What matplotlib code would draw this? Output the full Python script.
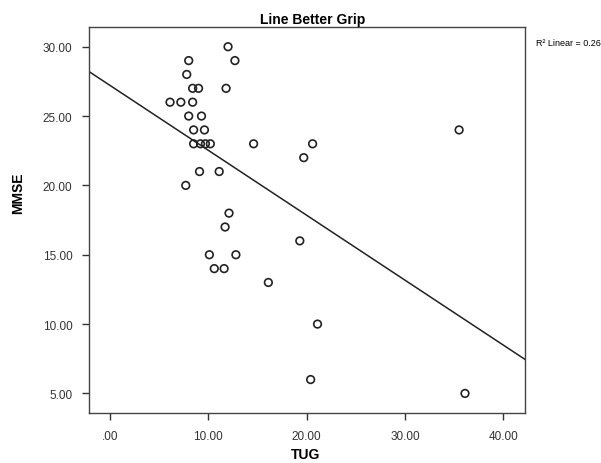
import numpy as np
import matplotlib.pyplot as plt

# TUG (s) と MMSE の散布図
tug = [12.0, 8.0, 12.7, 7.8, 8.4, 9.0, 11.8, 6.1, 7.2, 8.4,
       8.0, 9.3, 8.5, 9.6, 8.5, 9.2, 9.7, 10.2, 14.6, 9.1,
       11.1, 7.7, 12.1, 11.7, 10.1, 12.8, 10.6, 11.6, 16.1, 20.6,
       19.7, 19.3, 21.1, 20.4, 35.5, 36.1]
mmse = [30, 29, 29, 28, 27, 27, 27, 26, 26, 26,
        25, 25, 24, 24, 23, 23, 23, 23, 23, 21,
        21, 20, 18, 17, 15, 15, 14, 14, 13, 23,
        22, 16, 10, 6, 24, 5]
xticks = [0, 10, 20, 30, 40]
xticklabels = [".00", "10.00", "20.00", "30.00", "40.00"]
yticks = [5, 10, 15, 20, 25, 30]
yticklabels = ["5.00", "10.00", "15.00", "20.00", "25.00", "30.00"]

narrow = ["Liberation Sans Narrow", "Liberation Sans", "DejaVu Sans"]
plt.rcParams['font.family'] = ["Liberation Sans", "DejaVu Sans"]

fig = plt.figure(figsize=(6.01, 4.64), dpi=100)
ax = fig.add_axes([0.1481, 0.1078, 0.7254, 0.8312])

x = np.array(tug)
y = np.array(mmse)
b, a = np.polyfit(x, y, 1)

ax.scatter(x, y, s=30, facecolors="none", edgecolors="#222222", linewidths=1.2, zorder=3)
xl = np.array([-2.14, 42.2])
ax.plot(xl, a + b * xl, color="#222222", lw=1.1)

ax.set_xlim(-2.14, 42.2)
ax.set_ylim(3.59, 31.4)
ax.set_xticks(xticks)
ax.set_xticklabels(xticklabels)
ax.set_yticks(yticks)
ax.set_yticklabels(yticklabels)
ax.tick_params(direction="out", length=5, width=1, color="#333333",
               labelsize=8.5, labelcolor="#333333", pad=7)
for s in ax.spines.values():
    s.set_color("#444444")
    s.set_linewidth(1)

# 軸ラベル
fig.text(306 / 601, 1 - 455 / 464, "TUG", family=narrow, fontweight="bold",
         fontsize=10, ha="center", va="center")
fig.text(18 / 601, 1 - 193 / 464, "MMSE", family=narrow, fontweight="bold",
         fontsize=10, ha="center", va="center", rotation=90)
fig.text(313 / 601, 1 - 20 / 464, "Line Better Grip", family=narrow, fontweight="bold",
         fontsize=10, ha="center", va="center")
fig.text(536 / 601, 1 - 43 / 464, "R² Linear = 0.263", fontsize=6.5, ha="left", va="center")

fig.savefig("out.png", dpi=100)
